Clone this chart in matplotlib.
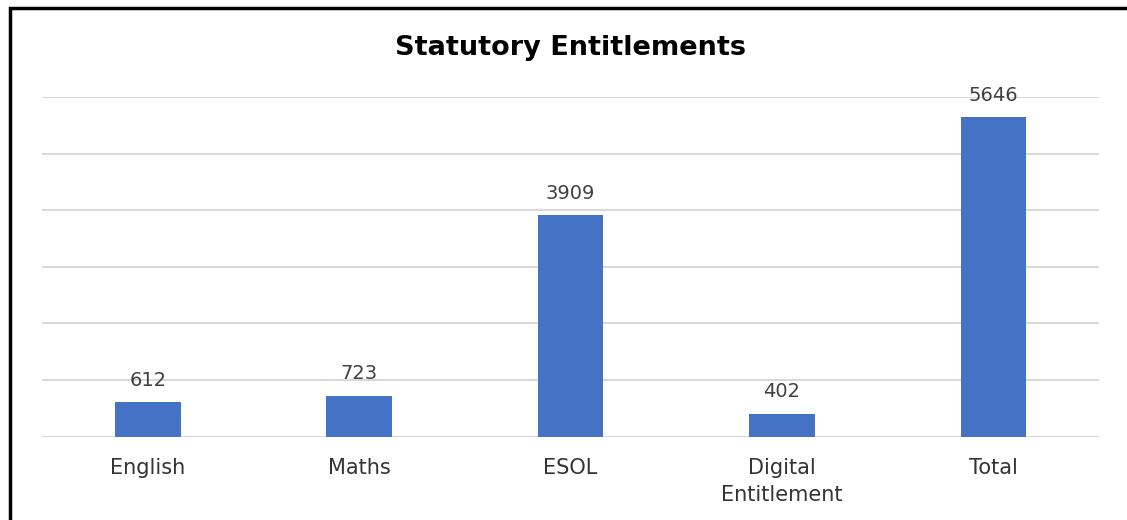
import matplotlib.pyplot as plt
from matplotlib.patches import Rectangle

categories = ["English", "Maths", "ESOL", "Digital\nEntitlement", "Total"]
values = [612, 723, 3909, 402, 5646]

plt.rcParams['font.family'] = ['DejaVu Sans']

fig = plt.figure(figsize=(11.27, 5.2), dpi=100)
ax = fig.add_axes([0.0373, 0.1602, 0.9379, 0.6533])

x = range(len(categories))
bars = ax.bar(x, values, width=0.31, color="#4472C4", zorder=3)

ax.set_xlim(-0.5, len(categories) - 0.5)
ax.set_ylim(0, 6000)
ax.set_yticks(range(0, 6001, 1000))
ax.yaxis.grid(True, color="#d9d9d9", linewidth=1.5, zorder=0)
ax.tick_params(axis="y", left=False, labelleft=False)
ax.tick_params(axis="x", length=0, pad=15, labelsize=15, labelcolor="#333333")
ax.set_xticks(list(x))
ax.set_xticklabels(categories, linespacing=1.45)
for s in ax.spines.values():
    s.set_visible(False)

for b, v in zip(bars, values):
    ax.annotate(str(v), (b.get_x() + b.get_width() / 2, v), xytext=(0, 9),
                textcoords="offset points", ha="center", va="bottom",
                fontsize=14, color="#404040")

fig.text(0.5063, 0.908, "Statutory Entitlements", ha="center", va="center",
         fontsize=19.5, fontweight="bold", color="#000000")

# frame left/top of the chart area
fig.patches.append(Rectangle((9.5 / 1127, -0.1), 1.2, 1.1 - 8.5 / 520,
                             transform=fig.transFigure, fill=False,
                             edgecolor="black", linewidth=2.5))

fig.savefig("out.png", dpi=100, facecolor="white")
